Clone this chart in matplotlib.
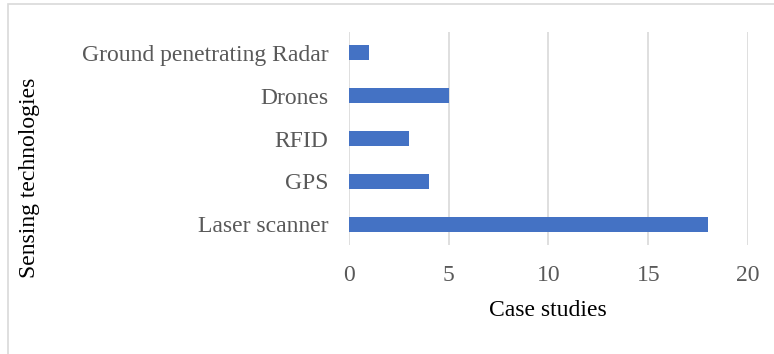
import matplotlib
matplotlib.use("Agg")
import matplotlib.pyplot as plt
from matplotlib.patches import Rectangle

categories = ["Laser scanner", "GPS", "RFID", "Drones", "Ground penetrating Radar"]
case_studies = [18, 4, 3, 5, 1]
x_ticks = [0, 5, 10, 15, 20]

plt.rcParams['font.family'] = ['Liberation Serif', 'DejaVu Serif']

fig = plt.figure(figsize=(7.74, 3.54), dpi=100)
ax = fig.add_axes([0.4509, 0.3065, 0.5155, 0.6045])

# chart frame, as in the original export (runs off right/bottom)
fig.patches.append(Rectangle((8 / 774, -0.05), 1.0, 1 - 4 / 354 + 0.05,
                             transform=fig.transFigure, fill=False,
                             edgecolor="#d9d9d9", linewidth=1.2))

ax.barh(range(len(categories)), case_studies, height=0.35, color="#4472c4", zorder=3)
ax.set_yticks(range(len(categories)))
ax.set_yticklabels(categories)
ax.set_xticks(x_ticks)
ax.set_xlim(0, 20)
ax.set_ylim(-0.5, len(categories) - 0.5)

ax.grid(axis="x", color="#d9d9d9", linewidth=1.2, zorder=0)
for s in ax.spines.values():
    s.set_visible(False)
ax.tick_params(axis="both", length=0, labelsize=17, labelcolor="#595959")
ax.tick_params(axis="y", pad=15)
ax.tick_params(axis="x", pad=14)

fig.text(548 / 774, 1 - 310 / 354, "Case studies", fontsize=17,
         ha="center", va="center")
fig.text(30 / 774, 1 - 178 / 354, "Sensing technologies", rotation=90,
         fontsize=17, ha="center", va="center")

fig.savefig("out.png", dpi=100)
